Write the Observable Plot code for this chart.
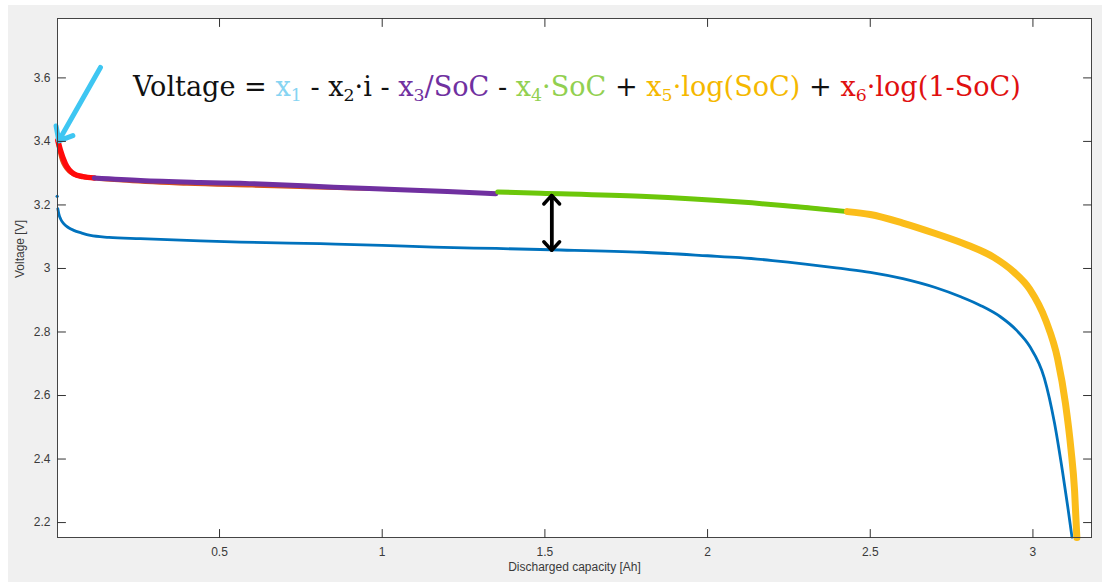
<!DOCTYPE html>
<html><head><meta charset="utf-8">
<script src="https://cdn.jsdelivr.net/npm/d3@7"></script>
<script src="https://cdn.jsdelivr.net/npm/@observablehq/plot@0.6"></script>
<style>
body{margin:0;background:#fff;}
#chart{position:absolute;left:8px;top:5px;}
</style></head><body><div id="chart"></div>
<script>
// ---- data ----
const xTicks = [0.5, 1, 1.5, 2, 2.5, 3];
const yTicks = [2.2, 2.4, 2.6, 2.8, 3.0, 3.2, 3.4, 3.6];
const xTickLabels = ["0.5", "1", "1.5", "2", "2.5", "3"];
const yTickLabels = ["2.2", "2.4", "2.6", "2.8", "3", "3.2", "3.4", "3.6"];

// measured voltage (blue)
const measCap = [0.003, 0.006, 0.012, 0.021, 0.035, 0.052, 0.075, 0.103, 0.16, 0.257, 0.441, 0.564, 0.81, 1.0, 1.158, 1.35, 1.518, 1.8, 2.0, 2.1, 2.2, 2.3, 2.41, 2.5, 2.6, 2.7, 2.78, 2.84, 2.9, 2.95, 2.99, 3.035, 3.066, 3.091, 3.107, 3.12];
const measV   = [3.188, 3.172, 3.155, 3.141, 3.129, 3.12, 3.112, 3.104, 3.098, 3.094, 3.087, 3.083, 3.078, 3.073, 3.067, 3.063, 3.059, 3.051, 3.04, 3.034, 3.025, 3.014, 3.0, 2.988, 2.968, 2.94, 2.91, 2.883, 2.848, 2.805, 2.755, 2.655, 2.515, 2.36, 2.25, 2.154];
const measStartCap = [0.001];
const measStartV = [3.227];

// underlying fitted curve (thin orange)
const fitCap = [0.002, 0.01, 0.03, 0.06, 0.1, 0.2, 0.4, 0.6, 0.8, 1.0, 1.2, 1.35, 1.6, 1.9, 2.2, 2.43, 2.6, 2.8, 2.88, 2.94, 2.99, 3.04, 3.076, 3.1, 3.117, 3.128, 3.135];
const fitV   = [3.39, 3.35, 3.31, 3.29, 3.283, 3.274, 3.264, 3.258, 3.252, 3.247, 3.242, 3.238, 3.233, 3.222, 3.203, 3.179, 3.143, 3.073, 3.035, 2.99, 2.935, 2.835, 2.715, 2.575, 2.43, 2.3, 2.153];

// model segments
const redCap = [0.003, 0.011, 0.026, 0.052, 0.08, 0.115];
const redV   = [3.403, 3.372, 3.33, 3.298, 3.289, 3.285];
const purpleCap = [0.115, 0.257, 0.441, 0.564, 0.626, 0.851, 1.057, 1.2, 1.349];
const purpleV   = [3.285, 3.277, 3.271, 3.268, 3.266, 3.256, 3.248, 3.242, 3.235];
const greenCap = [1.355, 1.487, 1.795, 2.102, 2.3, 2.43];
const greenV   = [3.241, 3.237, 3.227, 3.209, 3.192, 3.179];
const yellowCap = [2.43, 2.5, 2.6, 2.7, 2.8, 2.88, 2.94, 2.99, 3.04, 3.076, 3.1, 3.117, 3.128, 3.135];
const yellowV   = [3.179, 3.17, 3.143, 3.11, 3.073, 3.035, 2.99, 2.935, 2.835, 2.715, 2.575, 2.43, 2.3, 2.153];

// annotations
const cyanArrow = [{x1: 0.134, y1: 3.633, x2: 0.006, y2: 3.402}];
const gapArrows = [{x1: 1.521, y1: 3.057, x2: 1.521, y2: 3.23}, {x1: 1.521, y1: 3.23, x2: 1.521, y2: 3.057}];
const eqAnchor = {x: 0.2355, y: 3.542};
const eqWidthPx = 889;
const eqTexts  = ["Voltage = ", "x", "1", " - x", "2", "·i - ", "x", "3", "/SoC", " - ", "x", "4", "·SoC", " + ", "x", "5", "·log(SoC)", " + ", "x", "6", "·log(1-SoC)"];
const eqSub    = [0, 0, 1, 0, 1, 0, 0, 1, 0, 0, 0, 1, 0, 0, 0, 1, 0, 0, 0, 1, 0];
const eqColors = ["#111", "#86d4f2", "#86d4f2", "#111", "#111", "#111", "#7030a0", "#7030a0", "#7030a0", "#111", "#92d050", "#92d050", "#92d050", "#111", "#f5b800", "#f5b800", "#f5b800", "#111", "#e01010", "#e01010", "#e01010"];

const xLabel = "Discharged capacity [Ah]";
const yLabel = "Voltage [V]";

// ---- build ----
const toRows = (xs, ys) => xs.map((x, i) => ({x, y: ys[i]}));
const tickLine = {draw(ctx, l) { ctx.moveTo(0, 0); ctx.lineTo(0, -l); }};
const tickStyle = {length: 8, anchor: "start", shape: tickLine, stroke: "#333", strokeWidth: 1};

const plot = Plot.plot({
  width: 1094, height: 577,
  marginLeft: 49, marginTop: 13, marginRight: 11, marginBottom: 45,
  style: {background: "#f0f0f0", fontFamily: "'Liberation Sans', Arial, sans-serif", fontSize: "12px", color: "#3a3a3a"},
  x: {domain: [0.002, 3.18]},
  y: {domain: [2.153, 3.787]},
  marks: [
    Plot.frame({fill: "white", stroke: null}),
    Plot.line(toRows(fitCap, fitV), {x: "x", y: "y", stroke: "#d95319", strokeWidth: 2.2, curve: "monotone-x"}),
    Plot.line(toRows(measCap, measV), {x: "x", y: "y", stroke: "#0072bd", strokeWidth: 2.8, curve: "monotone-x"}),
    Plot.dot(toRows(measStartCap, measStartV), {x: "x", y: "y", r: 1.6, fill: "#0072bd", stroke: null}),
    Plot.line(toRows(redCap, redV), {x: "x", y: "y", stroke: "#ff0a0a", strokeWidth: 5.5, curve: "monotone-x"}),
    Plot.line(toRows(purpleCap, purpleV), {x: "x", y: "y", stroke: "#7030a0", strokeWidth: 5, curve: "monotone-x"}),
    Plot.line(toRows(greenCap, greenV), {x: "x", y: "y", stroke: "#6cc70a", strokeWidth: 5, curve: "monotone-x"}),
    Plot.line(toRows(yellowCap, yellowV), {x: "x", y: "y", stroke: "#fbbd1a", strokeWidth: 7, curve: "monotone-x"}),
    Plot.arrow(cyanArrow, {x1: "x1", y1: "y1", x2: "x2", y2: "y2", stroke: "#3ec6f2", strokeWidth: 5, headLength: 4.5, headAngle: 80}),
    Plot.arrow(gapArrows, {x1: "x1", y1: "y1", x2: "x2", y2: "y2", stroke: "#000", strokeWidth: 3.5, headLength: 5, headAngle: 85}),
    Plot.frame({stroke: "#444", strokeWidth: 1}),
    Plot.vector(xTicks, {x: d => d, frameAnchor: "bottom", rotate: 0, ...tickStyle}),
    Plot.vector(xTicks, {x: d => d, frameAnchor: "top", rotate: 180, ...tickStyle}),
    Plot.vector(yTicks, {y: d => d, frameAnchor: "left", rotate: 90, ...tickStyle}),
    Plot.vector(yTicks, {y: d => d, frameAnchor: "right", rotate: -90, ...tickStyle}),
    Plot.axisX({ticks: xTicks, tickSize: 0, tickPadding: 10, label: null, tickFormat: (d, i) => xTickLabels[i], fill: "#3a3a3a"}),
    Plot.axisY({ticks: yTicks, tickSize: 0, tickPadding: 7, label: null, tickFormat: (d, i) => yTickLabels[i], fill: "#3a3a3a"}),
    Plot.text([xLabel], {text: d => d, frameAnchor: "bottom", dy: 33, fontSize: 12, fill: "#3a3a3a"}),
    Plot.text([yLabel], {text: d => d, frameAnchor: "left", dx: -37, rotate: -90, fontSize: 12, fill: "#3a3a3a"})
  ]
});
document.getElementById("chart").appendChild(plot);

// equation annotation (multi-coloured rich text)
const sx = plot.scale("x"), sy = plot.scale("y");
function drawEquation(fs) {
  d3.select(plot).selectAll("text.equation").remove();
  const eq = d3.select(plot).append("text")
    .attr("class", "equation")
    .attr("x", sx.apply(eqAnchor.x))
    .attr("y", sy.apply(eqAnchor.y))
    .attr("text-anchor", "start")
    .attr("font-family", "'DejaVu Serif', 'Liberation Serif', serif")
    .attr("font-size", fs);
  let shifted = false;
  const sub = fs * 0.64, drop = fs * 0.2;
  eqTexts.forEach((t, i) => {
    const ts = eq.append("tspan").attr("fill", eqColors[i]).style("white-space", "pre").text(t);
    if (eqSub[i]) { ts.attr("font-size", sub).attr("dy", drop); shifted = true; }
    else if (shifted) { ts.attr("dy", -drop); shifted = false; }
  });
  eq.attr("xml:space", "preserve").style("white-space", "pre");
  return eq;
}
let eqNode = drawEquation(28);
const w = eqNode.node().getBBox().width;
if (w > 0) eqNode = drawEquation(28 * eqWidthPx / w);
</script></body></html>
